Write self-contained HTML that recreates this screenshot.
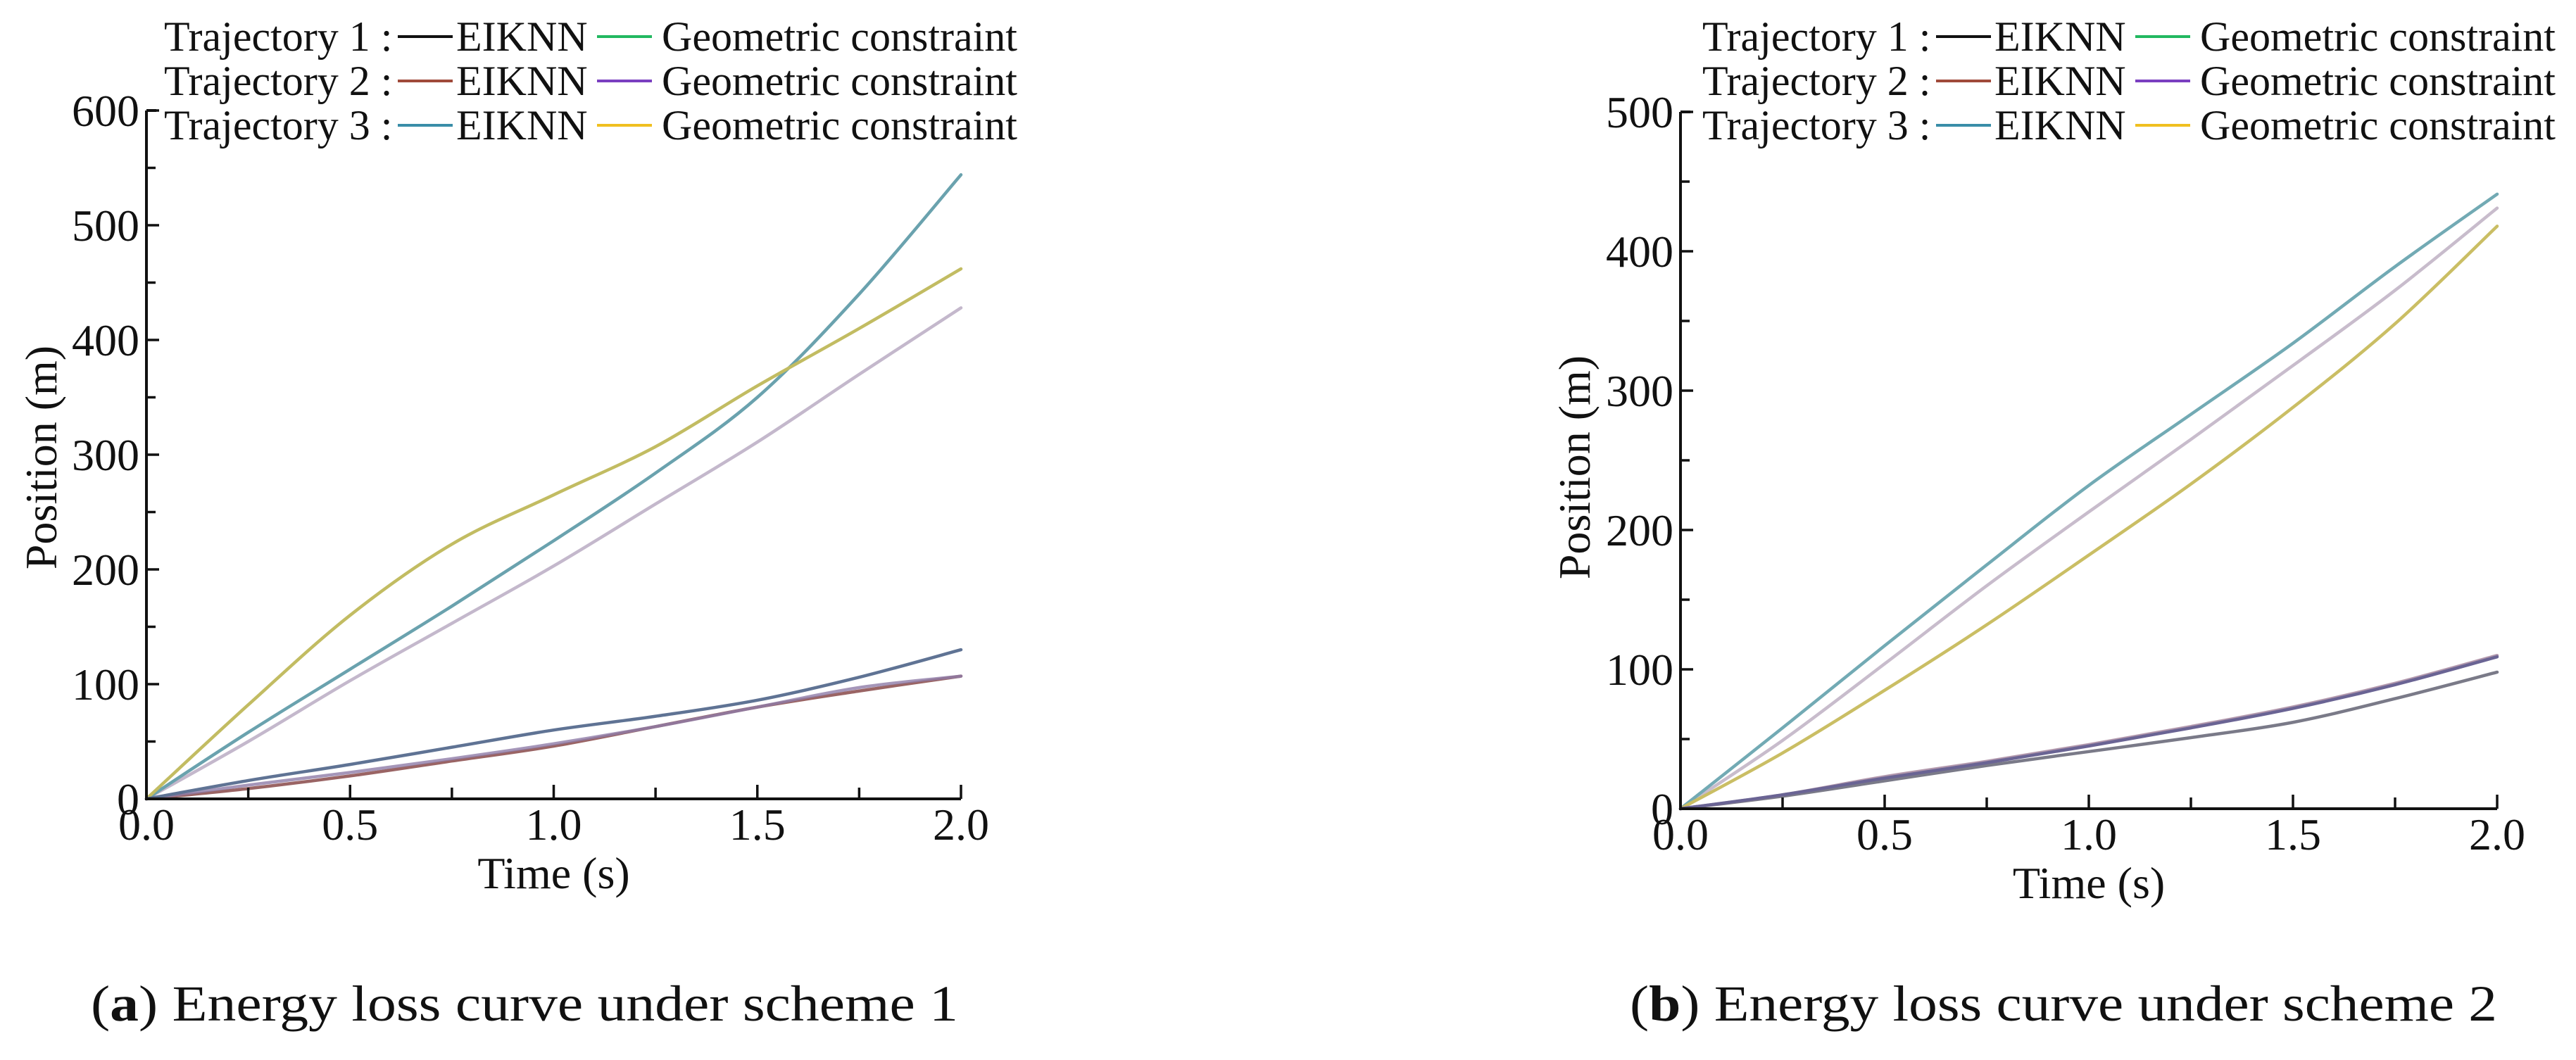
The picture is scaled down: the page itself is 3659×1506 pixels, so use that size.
<!DOCTYPE html>
<html><head><meta charset="utf-8"><style>
html,body{margin:0;padding:0;background:#fff;width:3659px;height:1506px;overflow:hidden}
svg{display:block}
text{font-family:"Liberation Serif",serif;fill:#111}
</style></head><body>
<svg id="fig" width="3659" height="1506" viewBox="0 0 3659 1506" xmlns="http://www.w3.org/2000/svg"></svg>
<script>
// ---- shared data ----
const times = [0, 0.25, 0.5, 0.75, 1.0, 1.25, 1.5, 1.75, 2.0];
const xTickLabels = ["0.0", "0.5", "1.0", "1.5", "2.0"];
const xTickValues = [0, 0.5, 1.0, 1.5, 2.0];
// ---- chart A (scheme 1) ----
const yTicksA = [0, 100, 200, 300, 400, 500, 600];
const a_traj3_eiknn = [0, 58, 113, 168, 225, 284, 350, 440, 544];
const a_traj3_geo = [0, 82, 160, 222, 265, 307, 360, 410, 462];
const a_traj1_geo = [0, 50, 103, 153, 203, 257, 311, 370, 428];
const a_traj1_eiknn = [0, 16, 30, 45, 60, 72, 86, 106, 130];
const a_traj2_eiknn = [0, 9, 20, 33, 46, 63, 80, 94, 107];
const a_traj2_geo = [0, 12, 23, 35, 48, 63, 80, 97, 107];
// ---- chart B (scheme 2) ----
const yTicksB = [0, 100, 200, 300, 400, 500];
const b_traj3_eiknn = [0, 58, 117, 175, 232, 283, 334, 389, 441];
const b_traj1_geo = [0, 49, 104, 160, 213, 265, 318, 372, 431];
const b_traj3_geo = [0, 40, 85, 132, 182, 233, 288, 348, 418];
const b_traj2_geo = [0, 10, 22, 33, 45, 58, 72, 89, 109];
const b_traj2_eiknn = [0, 10, 23, 34, 46, 59, 73, 90, 110];
const b_traj1_eiknn = [0, 9, 20, 31, 41, 51, 62, 79, 98];

const NS = "http://www.w3.org/2000/svg";
const svg = document.getElementById("fig");
function mk(tag, attrs, parent) {
  const e = document.createElementNS(NS, tag);
  for (const k in attrs) e.setAttribute(k, attrs[k]);
  (parent || svg).appendChild(e);
  return e;
}
function smoothPath(pts) {
  let d = "M" + pts[0][0] + "," + pts[0][1];
  for (let i = 0; i < pts.length - 1; i++) {
    const p0 = pts[Math.max(0, i - 1)], p1 = pts[i], p2 = pts[i + 1], p3 = pts[Math.min(pts.length - 1, i + 2)];
    const c1x = p1[0] + (p2[0] - p0[0]) / 6, c1y = p1[1] + (p2[1] - p0[1]) / 6;
    const c2x = p2[0] - (p3[0] - p1[0]) / 6, c2y = p2[1] - (p3[1] - p1[1]) / 6;
    d += " C" + c1x + "," + c1y + " " + c2x + "," + c2y + " " + p2[0] + "," + p2[1];
  }
  return d;
}

function drawChart(cfg) {
  const g = mk("g", {});
  
  
  const xS = v => cfg.x0 + (v / 2) * (cfg.x1 - cfg.x0);
  const yS = v => cfg.y0 - v * cfg.pxPer;
  const yMax = cfg.yTicks[cfg.yTicks.length - 1];

  cfg.series.forEach(s => {
    const pts = times.map((t, i) => [xS(t), yS(s.vals[i])]);
    const p = mk("path", {d: smoothPath(pts), fill: "none", stroke: s.color, "stroke-width": 4.5, "stroke-linecap": "round", opacity: s.op || 1}, g);
    
    
  });

  const ax = mk("path", {d: "M" + (xS(0)) + "," + yS(yMax) + " L" + xS(0) + "," + yS(0) + " L" + xS(2) + "," + yS(0), fill: "none", stroke: "#111", "stroke-width": 4}, g);
  
  
  mk("line", {x1: xS(0), y1: yS(yMax), x2: xS(0) + 14, y2: yS(yMax), stroke: "#111", "stroke-width": 4}, g);
  for (let v = 0; v <= yMax; v += 50) {
    const len = (v % 100 === 0) ? 18 : 13;
    mk("line", {x1: xS(0), y1: yS(v), x2: xS(0) + len, y2: yS(v), stroke: "#111", "stroke-width": 3.5}, g);
  }
  cfg.yTicks.forEach(v => {
    const t = mk("text", {x: xS(0) - 10, y: yS(v) + 22, "font-size": 64, "text-anchor": "end"}, g);
    t.textContent = String(v);
    
    
  });
  for (let v = 0.25; v <= 2.001; v += 0.25) {
    const major = Math.abs(v * 2 - Math.round(v * 2)) < 1e-6;
    mk("line", {x1: xS(v), y1: yS(0), x2: xS(v), y2: yS(0) - (major ? 20 : 16), stroke: "#111", "stroke-width": 3.5}, g);
  }
  xTickValues.forEach((v, i) => {
    const t = mk("text", {x: xS(v), y: yS(0) + 58, "font-size": 64, "text-anchor": "middle"}, g);
    t.textContent = xTickLabels[i];
    
    
  });
  const xt = mk("text", {x: (xS(0) + xS(2)) / 2, y: yS(0) + 127, "font-size": 64, "text-anchor": "middle"}, g);
  xt.textContent = "Time (s)";
  
  
  const yt = mk("text", {x: 0, y: 0, "font-size": 64, "text-anchor": "middle", transform: "translate(" + (cfg.yTitleX) + "," + cfg.yTitleY + ") rotate(-90)"}, g);
  yt.textContent = "Position (m)";
  
  

  const L = cfg.legendX;
  const rows = [
    ["Trajectory 1 :", "#111111", "#22b860"],
    ["Trajectory 2 :", "#a04a3a", "#7a3fc0"],
    ["Trajectory 3 :", "#3a8ea8", "#f0c020"]
  ];
  rows.forEach((r, i) => {
    const base = 72 + i * 63;
    const lg = mk("g", {}, g);
    
    
    const lab = mk("text", {x: L, y: base, "font-size": 60}, lg);
    lab.textContent = r[0];
    mk("line", {x1: L + 332, y1: base - 20, x2: L + 410, y2: base - 20, stroke: r[1], "stroke-width": 4}, lg);
    const e = mk("text", {x: L + 415, y: base, "font-size": 60}, lg);
    e.textContent = "EIKNN";
    mk("line", {x1: L + 615, y1: base - 20, x2: L + 693, y2: base - 20, stroke: r[2], "stroke-width": 4}, lg);
    const gc = mk("text", {x: L + 707, y: base, "font-size": 60, textLength: 505, lengthAdjust: "spacingAndGlyphs"}, lg);
    gc.textContent = "Geometric constraint";
  });

  const cap = mk("text", {x: cfg.capX, y: 1450, "font-size": 72, textLength: 1232, lengthAdjust: "spacingAndGlyphs"}, g);
  
  
  const t1 = mk("tspan", {}, cap); t1.textContent = "(";
  const t2 = mk("tspan", {"font-weight": "bold"}, cap); t2.textContent = cfg.letter;
  const t3 = mk("tspan", {}, cap); t3.textContent = ") " + cfg.caption;
}

drawChart({
  name: "chart-scheme-1", x0: 208, x1: 1365, y0: 1135, pxPer: 1.63, yTicks: yTicksA,
  yTitleX: 80, yTitleY: 650, legendX: 233, capX: 129, letter: "a", caption: "Energy loss curve under scheme 1",
  series: [
    {name: "trajectory-1-geometric-line", vals: a_traj1_geo, color: "#c4b8cc"},
    {name: "trajectory-3-eiknn-line", vals: a_traj3_eiknn, color: "#6aa2ae"},
    {name: "trajectory-3-geometric-line", vals: a_traj3_geo, color: "#c2bc62"},
    {name: "trajectory-2-eiknn-line", vals: a_traj2_eiknn, color: "#9a6464"},
    {name: "trajectory-2-geometric-line", vals: a_traj2_geo, color: "#8e7ca8", op: 0.8},
    {name: "trajectory-1-eiknn-line", vals: a_traj1_eiknn, color: "#5f7394"}
  ]
});
drawChart({
  name: "chart-scheme-2", x0: 2387, x1: 3547, y0: 1149, pxPer: 1.98, yTicks: yTicksB,
  yTitleX: 2258, yTitleY: 664, legendX: 2418, capX: 2315, letter: "b", caption: "Energy loss curve under scheme 2",
  series: [
    {name: "trajectory-1-geometric-line", vals: b_traj1_geo, color: "#c8bccc"},
    {name: "trajectory-3-eiknn-line", vals: b_traj3_eiknn, color: "#72aab4"},
    {name: "trajectory-3-geometric-line", vals: b_traj3_geo, color: "#cabe64"},
    {name: "trajectory-1-eiknn-line", vals: b_traj1_eiknn, color: "#7a7a88"},
    {name: "trajectory-2-eiknn-line", vals: b_traj2_eiknn, color: "#a08098", op: 0.8},
    {name: "trajectory-2-geometric-line", vals: b_traj2_geo, color: "#6a6494"}
  ]
});
</script>
</body></html>
